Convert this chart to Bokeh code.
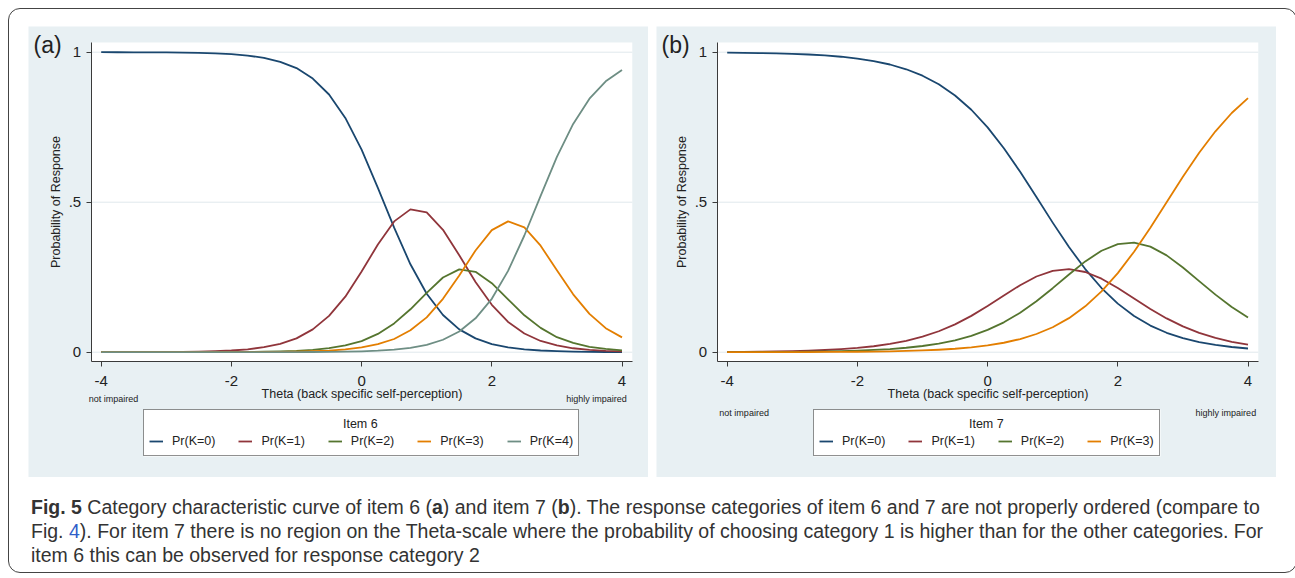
from bokeh.plotting import figure
from bokeh.models import Legend, LegendItem, Label, FixedTicker, Div, BoxAnnotation
from bokeh.layouts import row, column
from bokeh.embed import file_html
from bokeh.resources import INLINE

# ---------------- data ----------------
THETA = [-4.0, -3.75, -3.5, -3.25, -3.0, -2.75, -2.5, -2.25, -2.0, -1.75, -1.5,
         -1.25, -1.0, -0.75, -0.5, -0.25, 0.0, 0.25, 0.5, 0.75, 1.0, 1.25, 1.5,
         1.75, 2.0, 2.25, 2.5, 2.75, 3.0, 3.25, 3.5, 3.75, 4.0]

# Item 6 (panel a)
ITEM6_K0 = [1.0, 0.9998, 0.9997, 0.9996, 0.9992, 0.9987, 0.9978, 0.9962, 0.9935, 0.9889, 0.981,
            0.968, 0.947, 0.912, 0.859, 0.781, 0.675, 0.548, 0.415, 0.293, 0.195, 0.124, 0.076,
            0.046, 0.027, 0.016, 0.0095, 0.0056, 0.0033, 0.0019, 0.0011, 0.0007, 0.0004]
ITEM6_K1 = [0.0001, 0.0002, 0.0003, 0.0004, 0.0007, 0.0011, 0.0019, 0.0033, 0.0057, 0.0097, 0.0166,
            0.028, 0.046, 0.076, 0.121, 0.185, 0.269, 0.359, 0.436, 0.476, 0.466, 0.408, 0.323,
            0.234, 0.158, 0.101, 0.0625, 0.0374, 0.0227, 0.0131, 0.0079, 0.0045, 0.0027]
ITEM6_K2 = [0.0, 0.0, 0.0, 0.0001, 0.0001, 0.0002, 0.0002, 0.0003, 0.0005, 0.001, 0.0016,
            0.0028, 0.0047, 0.008, 0.0135, 0.023, 0.037, 0.061, 0.096, 0.143, 0.198, 0.249, 0.276,
            0.268, 0.23, 0.176, 0.123, 0.081, 0.05, 0.031, 0.018, 0.011, 0.0064]
ITEM6_K3 = [0.0, 0.0, 0.0, 0.0, 0.0, 0.0001, 0.0001, 0.0002, 0.0003, 0.0004, 0.0007,
            0.0011, 0.0019, 0.0032, 0.0055, 0.0094, 0.0158, 0.0267, 0.044, 0.073, 0.116, 0.178, 0.256,
            0.339, 0.407, 0.436, 0.416, 0.355, 0.273, 0.193, 0.128, 0.08, 0.0495]
ITEM6_K4 = [0.0, 0.0, 0.0, 0.0, 0.0, 0.0, 0.0, 0.0, 0.0, 0.0, 0.0001,
            0.0002, 0.0003, 0.0006, 0.001, 0.0017, 0.0029, 0.005, 0.0086, 0.0146, 0.0246, 0.0415, 0.069,
            0.113, 0.178, 0.271, 0.389, 0.521, 0.651, 0.761, 0.845, 0.903, 0.941]

# Item 7 (panel b)
ITEM7_K0 = [0.9986, 0.998, 0.9972, 0.9961, 0.9945, 0.9923, 0.9892, 0.9849, 0.9789, 0.9705, 0.959,
            0.9431, 0.9217, 0.8932, 0.8558, 0.8082, 0.7495, 0.6799, 0.6013, 0.5171, 0.4319, 0.3506, 0.2771,
            0.2139, 0.1619, 0.1206, 0.0887, 0.0647, 0.0468, 0.0337, 0.0242, 0.0173, 0.0123]
ITEM7_K1 = [0.0009, 0.0014, 0.0019, 0.0027, 0.0037, 0.0052, 0.0073, 0.0102, 0.0142, 0.0198, 0.0275,
            0.0379, 0.0518, 0.0698, 0.0929, 0.1211, 0.1537, 0.189, 0.2234, 0.2524, 0.2714, 0.2767, 0.2673,
            0.2451, 0.214, 0.1789, 0.1442, 0.1126, 0.0859, 0.0643, 0.0474, 0.0346, 0.0251]
ITEM7_K2 = [0.0004, 0.0005, 0.0007, 0.001, 0.0014, 0.002, 0.0027, 0.0038, 0.0054, 0.0076, 0.0105,
            0.0148, 0.0207, 0.0288, 0.0398, 0.0546, 0.0742, 0.0996, 0.1315, 0.1698, 0.2134, 0.2592, 0.3027,
            0.3383, 0.3605, 0.3654, 0.3519, 0.3227, 0.2825, 0.2371, 0.192, 0.1508, 0.1155]
ITEM7_K3 = [0.0001, 0.0001, 0.0002, 0.0003, 0.0004, 0.0005, 0.0008, 0.0011, 0.0015, 0.0021, 0.003,
            0.0042, 0.0058, 0.0082, 0.0115, 0.0161, 0.0226, 0.0315, 0.0438, 0.0607, 0.0833, 0.1135, 0.1529,
            0.2027, 0.2636, 0.3351, 0.4152, 0.5, 0.5848, 0.6649, 0.7364, 0.7973, 0.8471]

LABELS_6 = ["Pr(K=0)", "Pr(K=1)", "Pr(K=2)", "Pr(K=3)", "Pr(K=4)"]
LABELS_7 = ["Pr(K=0)", "Pr(K=1)", "Pr(K=2)", "Pr(K=3)"]
X_TICKS = [-4, -2, 0, 2, 4]
X_TICK_LABELS = ["-4", "-2", "0", "2", "4"]
Y_TICKS = [0, 0.5, 1]
Y_TICK_LABELS = ["0", ".5", "1"]

CAPTION_BOLD = "Fig. 5"
CAPTION_L1 = (" Category characteristic curve of item 6 (<b>a</b>) and item 7 (<b>b</b>). "
              "The response categories of item 6 and 7 are not properly ordered (compare to")
CAPTION_L2 = ("). For item 7 there is no region on the Theta-scale where the probability of "
              "choosing category 1 is higher than for the other categories. For")
CAPTION_L3 = "item 6 this can be observed for response category 2"

# ---------------- style / geometry ----------------
COLORS = ["#1a476f", "#90353b", "#55752f", "#e37e00", "#6e8e84"]
PANEL_BG = "#e8f0f3"
GRID = "#e0e8ec"
AXIS = "#3a3a3a"
TXT = "#222222"
FONT = "Liberation Sans"

PANEL_W, PANEL_H = 620, 451
PX_PER_X = 65.1          # pixels per theta unit
PX_PER_Y = 300.0         # pixels per probability unit
PLOT_L, PLOT_R = -4.154, 4.158     # white plot region (data units)
PLOT_B, PLOT_T = -0.031, 1.032
Y0_FROM_BOTTOM = 125.3   # pixel height of y=0 above panel bottom
LEG_BOTTOM, LEG_HEIGHT = 21, 47


def make_panel(tag, item_title, series, labels, x0_px, legend_x, legend_w,
               low_x, low_y, high_x, high_y):
    x_start = -4 - x0_px / PX_PER_X
    y_start = -Y0_FROM_BOTTOM / PX_PER_Y
    p = figure(width=PANEL_W, height=PANEL_H,
               x_range=(x_start, x_start + PANEL_W / PX_PER_X),
               y_range=(y_start, y_start + PANEL_H / PX_PER_Y),
               output_backend="svg", toolbar_location=None, min_border=0,
               background_fill_color=PANEL_BG, border_fill_color=PANEL_BG,
               outline_line_color=None)

    # white plot region and light grid lines
    p.add_layout(BoxAnnotation(left=PLOT_L, right=PLOT_R, bottom=PLOT_B, top=PLOT_T,
                               fill_color="white", fill_alpha=1.0, line_color=None,
                               level="underlay"))
    p.segment(x0=[PLOT_L] * len(Y_TICKS), y0=Y_TICKS, x1=[PLOT_R] * len(Y_TICKS), y1=Y_TICKS,
              line_color=GRID, line_width=1)
    p.grid.visible = False

    # white background of the legend box
    p.add_layout(BoxAnnotation(left=legend_x, right=legend_x + legend_w,
                               bottom=LEG_BOTTOM, top=LEG_BOTTOM + LEG_HEIGHT,
                               left_units="screen", right_units="screen",
                               bottom_units="screen", top_units="screen",
                               fill_color="white", fill_alpha=1.0, line_color=None,
                               level="underlay"))

    renderers = []
    for k, ys in enumerate(series):
        r = p.line(THETA, ys, line_color=COLORS[k], line_width=1.8, line_join="round")
        renderers.append(r)

    # axes, pinned to the edges of the plot region
    p.xaxis.fixed_location = PLOT_B
    p.yaxis.fixed_location = PLOT_L
    p.xaxis.bounds = (PLOT_L, PLOT_R)
    p.yaxis.bounds = (PLOT_B, PLOT_T)
    p.xaxis.ticker = FixedTicker(ticks=X_TICKS)
    p.xaxis.major_label_overrides = dict(zip(X_TICKS, X_TICK_LABELS))
    p.yaxis.ticker = FixedTicker(ticks=Y_TICKS)
    p.yaxis.major_label_overrides = dict(zip(Y_TICKS, Y_TICK_LABELS))
    p.xaxis.axis_label = "Theta (back specific self-perception)"
    p.yaxis.axis_label = "Probability of Response"
    for ax in (p.xaxis, p.yaxis):
        ax.axis_line_color = AXIS
        ax.axis_line_width = 1
        ax.major_tick_line_color = AXIS
        ax.major_tick_out = 5
        ax.major_tick_in = 0
        ax.minor_tick_out = 0
        ax.minor_tick_in = 0
        ax.major_label_text_font = FONT
        ax.major_label_text_font_size = "15px"
        ax.major_label_text_color = TXT
        ax.axis_label_text_font = FONT
        ax.axis_label_text_font_size = "12.5px"
        ax.axis_label_text_font_style = "normal"
        ax.axis_label_text_color = TXT
    p.xaxis.major_label_standoff = 9
    p.xaxis.axis_label_standoff = -2
    p.yaxis.major_label_standoff = 5
    p.yaxis.axis_label_standoff = 3

    # legend (transparent, so the centred title label shows through)
    items = [LegendItem(label=lab, renderers=[r]) for lab, r in zip(labels, renderers)]
    leg = Legend(items=items, orientation="horizontal", location=(legend_x, LEG_BOTTOM),
                 title="\u00a0", title_text_font=FONT, title_text_font_size="12.5px",
                 title_text_font_style="normal", title_standoff=3,
                 label_text_font=FONT, label_text_font_size="12.5px",
                 label_text_color=TXT, glyph_width=14, glyph_height=18, label_height=18,
                 label_standoff=9, spacing=23, padding=5, margin=0,
                 border_line_color="#222222", border_line_width=1,
                 background_fill_color="white", background_fill_alpha=0.0)
    p.add_layout(leg)
    p.add_layout(Label(x=-0.02, y=54, x_units="data", y_units="screen", text=item_title,
                       text_align="center", text_baseline="middle", text_font=FONT,
                       text_font_size="12.5px", text_color=TXT))

    # end labels of the theta scale
    p.add_layout(Label(x=low_x, y=low_y, x_units="data", y_units="screen", text="not impaired",
                       text_align="center", text_baseline="middle", text_font=FONT,
                       text_font_size="9px", text_color=TXT))
    p.add_layout(Label(x=high_x, y=high_y, x_units="data", y_units="screen", text="highly impaired",
                       text_align="center", text_baseline="middle", text_font=FONT,
                       text_font_size="9px", text_color=TXT))
    # panel tag
    p.add_layout(Label(x=5, y=433, x_units="screen", y_units="screen", text=tag,
                       text_align="left", text_baseline="middle",
                       text_font=FONT, text_font_size="23px", text_color=TXT))
    return p


pa = make_panel("(a)", "Item 6", [ITEM6_K0, ITEM6_K1, ITEM6_K2, ITEM6_K3, ITEM6_K4], LABELS_6,
                72.7, 115, 435, -3.81, 79, 3.61, 79)
pb = make_panel("(b)", "Item 7", [ITEM7_K0, ITEM7_K1, ITEM7_K2, ITEM7_K3], LABELS_7,
                70.7, 157, 347, -3.74, 65, 3.66, 65)

cap_html = ("<b>" + CAPTION_BOLD + "</b>" + CAPTION_L1 + "<br>Fig. <span style='color:#2f5ec9'>4</span>"
            + CAPTION_L2 + "<br>" + CAPTION_L3)
cap = Div(text=cap_html, width=1245,
          styles={"font-family": "'Liberation Sans', sans-serif", "font-size": "19.5px",
                  "line-height": "24px", "color": "#333333", "white-space": "nowrap",
                  "position": "relative", "left": "-2px"})

lay = column(row(pa, pb, spacing=8), cap, spacing=13,
             styles={"border": "1.5px solid #444444", "border-radius": "12px",
                     "padding": "17px 13px 0px 19px", "margin": "8px 0 0 8px"})

open("out.html", "w").write(file_html(lay, INLINE))
